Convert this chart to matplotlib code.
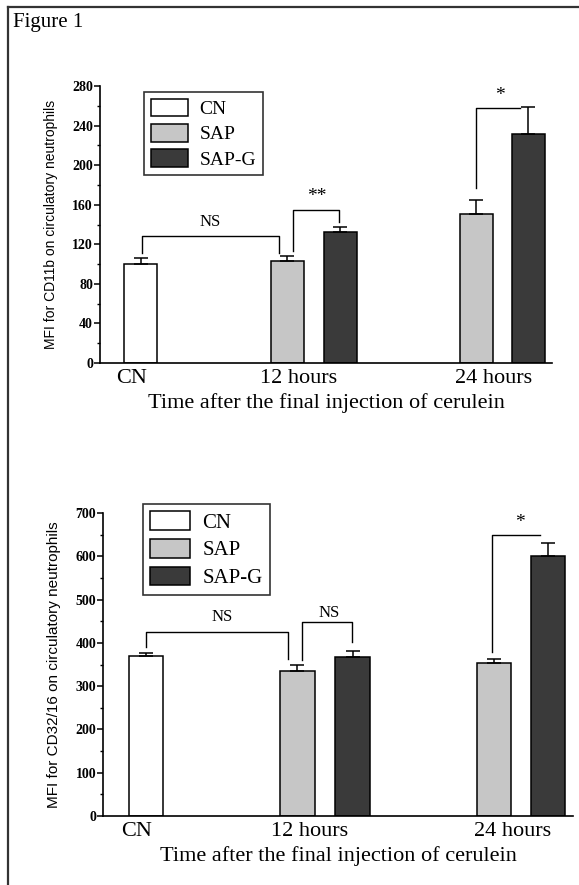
import matplotlib.pyplot as plt
from matplotlib.lines import Line2D
from matplotlib.patches import Patch

# data
groups = ['CN', 'SAP', 'SAP-G']
tick_labels = ['CN', '12 hours', '24 hours']

cd11b_vals = [100, 103, 132, 151, 232]
cd11b_err = [6, 5, 5, 14, 27]
cd32_vals = [370, 335, 367, 353, 600]
cd32_err = [6, 14, 14, 9, 30]
bar_group = ['CN', 'SAP', 'SAP-G', 'SAP', 'SAP-G']

# layout (x in axis units)
bar_x = [41, 187, 240, 376, 428]
tick_x = [32, 199, 394]
bar_w = 33
colors = {'CN': 'white', 'SAP': '#c6c6c6', 'SAP-G': '#3a3a3a'}

serif = ['Liberation Serif', 'DejaVu Serif']
sans = ['Liberation Sans', 'DejaVu Sans']

fig = plt.figure(figsize=(5.79, 8.85), dpi=100)
fig.text(0.022, 0.985, 'Figure 1', family=serif, fontsize=15, va='top', ha='left')
fig.add_artist(Line2D([0.014, 1.0], [0.992, 0.992], color='#333333', lw=1.6))
fig.add_artist(Line2D([0.014, 0.014], [0.0, 0.992], color='#333333', lw=1.6))


def panel(ax, vals, errs, ylim, major, minor, ylabel, brackets, leg_anchor, leg_fs, lab_fs):
    for x, v, e, g in zip(bar_x, vals, errs, bar_group):
        ax.bar(x, v, width=bar_w, color=colors[g], edgecolor='black', linewidth=1.1, zorder=2)
        ax.errorbar(x, v, yerr=[[0], [e]], color='black', capsize=5, elinewidth=1.1,
                    capthick=1.1, zorder=3)
    ax.set_xlim(0, 452)
    ax.set_ylim(*ylim)
    ax.set_yticks(range(ylim[0], ylim[1] + 1, major))
    ax.set_yticks(range(ylim[0], ylim[1] + 1, minor), minor=True)
    ax.set_xticks(tick_x)
    ax.set_xticklabels(tick_labels, family=serif, fontsize=16)
    ax.tick_params(axis='x', length=0, pad=4)
    ax.tick_params(axis='y', which='major', length=4, width=1.1, pad=1, labelsize=10)
    ax.tick_params(axis='y', which='minor', length=2.5, width=1.0)
    for t in ax.get_yticklabels():
        t.set_family(serif)
        t.set_fontweight('bold')
    for s in ['top', 'right']:
        ax.spines[s].set_visible(False)
    for s in ['left', 'bottom']:
        ax.spines[s].set_linewidth(1.2)
    ax.set_xlabel('Time after the final injection of cerulein', family=serif, fontsize=16,
                  labelpad=4)
    ax.set_ylabel(ylabel, family=sans, fontsize=lab_fs, labelpad=10)

    for xs, ys, label, tx, ty in brackets:
        ax.plot(xs, ys, color='black', lw=1.0, zorder=4, clip_on=False)
        fs = 14 if '*' in label else 12
        ax.text(tx, ty, label, family=serif, fontsize=fs, ha='center', va='center')

    handles = [Patch(facecolor=colors[g], edgecolor='black', linewidth=1.1) for g in groups]
    leg = ax.legend(handles, groups, loc='upper left', bbox_to_anchor=leg_anchor,
                    prop={'family': serif, 'size': leg_fs}, frameon=True, fancybox=False,
                    edgecolor='black', handlelength=1.9, handleheight=1.0,
                    handletextpad=0.6, labelspacing=0.3, borderpad=0.35, borderaxespad=0)
    leg.get_frame().set_linewidth(1.2)


ax1 = fig.add_axes([0.1727, 0.5898, 0.7807, 0.313])
panel(ax1, cd11b_vals, cd11b_err, (0, 280), 40, 20,
      'MFI for CD11b on circulatory neutrophils',
      [([42, 42, 179, 179], [111, 128, 128, 111], 'NS', 110, 143),
       ([193, 193, 239, 239], [113, 155, 155, 143], '**', 217, 168),
       ([376, 376, 420], [177, 258, 258], '*', 400, 270)],
      (0.097, 0.978), 14, 10)

ax2 = fig.add_axes([0.178, 0.078, 0.8116, 0.3423])
panel(ax2, cd32_vals, cd32_err, (0, 700), 100, 50,
      'MFI for CD32/16 on circulatory neutrophils',
      [([41, 41, 178, 178], [390, 425, 425, 362], 'NS', 115, 460),
       ([191, 191, 239, 239], [360, 448, 448, 402], 'NS', 217, 468),
       ([374, 374, 420], [379, 649, 649], '*', 401, 677)],
      (0.085, 1.03), 15, 11)

plt.savefig('out.png', dpi=100)
